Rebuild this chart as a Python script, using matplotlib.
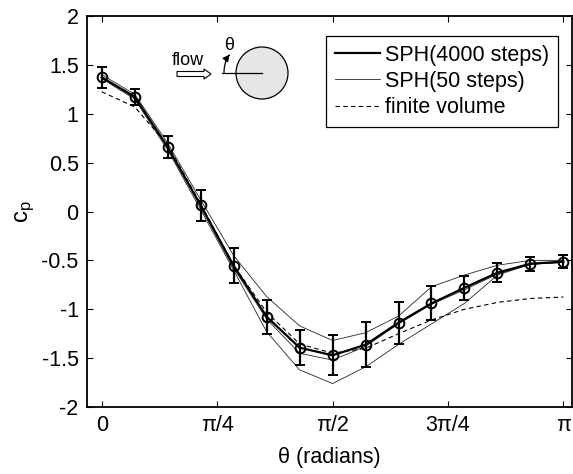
import numpy as np
import matplotlib
matplotlib.use("Agg")
import matplotlib.pyplot as plt
from matplotlib.patches import Circle, FancyArrow

plt.rcParams['font.family'] = ['Liberation Sans', 'DejaVu Sans']
plt.rcParams['mathtext.fontset'] = 'custom'
plt.rcParams['mathtext.rm'] = 'Liberation Sans'
plt.rcParams['mathtext.it'] = 'Liberation Sans'

# --- data ---
theta = np.arange(15) * np.pi / 14

sph4000 = [1.373, 1.174, 0.66, 0.063, -0.554, -1.076, -1.393, -1.471, -1.363,
           -1.137, -0.94, -0.78, -0.626, -0.534, -0.513]
sph4000_err = [0.105, 0.08, 0.11, 0.16, 0.18, 0.175, 0.18, 0.205, 0.23,
               0.215, 0.175, 0.125, 0.095, 0.07, 0.066]

sph50_upper = [1.40, 1.20, 0.70, 0.12, -0.45, -0.87, -1.17, -1.32, -1.24,
               -1.07, -0.77, -0.65, -0.55, -0.50, -0.50]
sph50_mid = [1.37, 1.16, 0.66, 0.05, -0.58, -1.10, -1.45, -1.52, -1.38,
             -1.15, -0.95, -0.80, -0.64, -0.54, -0.52]
sph50_lower = [1.36, 1.15, 0.63, 0.02, -0.60, -1.23, -1.62, -1.76, -1.59,
               -1.36, -1.15, -0.94, -0.65, -0.54, -0.52]

fv = [1.225, 1.07, 0.68, 0.08, -0.55, -1.03, -1.355, -1.45, -1.40,
      -1.25, -1.11, -1.00, -0.93, -0.89, -0.875]

xticks = [0, np.pi/4, np.pi/2, 3*np.pi/4, np.pi]
xticklabels = ['0', 'π/4', 'π/2', '3π/4', 'π']
yticks = np.arange(-2, 2.01, 0.5)
yticklabels = ['-2', '-1.5', '-1', '-0.5', '0', '0.5', '1', '1.5', '2']

FS = 15.5

fig = plt.figure(figsize=(5.73, 4.74), dpi=100)
ax = fig.add_axes([87/573, 67/474, 485/573, 391/474])

# thin SPH(50 steps) lines
ax.plot(theta, sph50_upper, color='0.15', lw=0.6, label='SPH(50 steps)')
ax.plot(theta, sph50_mid, color='0.15', lw=0.6)
ax.plot(theta, sph50_lower, color='0.15', lw=0.6)

# finite volume
ax.plot(theta, fv, color='k', lw=0.8, ls=(0, (4, 3)), label='finite volume')

# SPH(4000 steps) with error bars
ax.plot(theta, sph4000, color='k', lw=1.6, label='SPH(4000 steps)')
ax.errorbar(theta, sph4000, yerr=sph4000_err, fmt='o', color='k',
            mfc='none', mec='k', mew=1.4, ms=7, elinewidth=1.6,
            capsize=3.5, capthick=1.6)

ax.set_xlim(-0.1, 3.2)
ax.set_ylim(-2, 2)
ax.set_xticks(xticks)
ax.set_xticklabels(xticklabels)
ax.set_yticks(yticks)
ax.set_yticklabels(yticklabels)
ax.tick_params(direction='in', length=4, width=0.8, labelsize=FS,
               top=True, right=True, pad=6)
for s in ax.spines.values():
    s.set_linewidth(1.3)

ax.set_xlabel('θ (radians)', fontsize=FS, labelpad=8)
ax.set_ylabel(r'c$_\mathregular{p}$', fontsize=17, labelpad=3)

handles, labels = ax.get_legend_handles_labels()
order = [2, 0, 1]
leg = ax.legend([handles[i] for i in order], [labels[i] for i in order],
                loc='upper right', bbox_to_anchor=(0.971, 0.949),
                borderaxespad=0, fontsize=FS, handlelength=2.1,
                handletextpad=0.25, labelspacing=0.25, borderpad=0.4,
                fancybox=False, framealpha=1)
leg.get_frame().set_edgecolor('k')
leg.get_frame().set_linewidth(0.9)

# inset sketch of the cylinder, drawn in pixel units
ins = fig.add_axes([150/573, (474-112)/474, 150/573, 82/474])
ins.set_xlim(150, 300)
ins.set_ylim(112, 30)
ins.axis('off')
ins.add_patch(Circle((262, 73), 26, facecolor='#e6e6e6', edgecolor='k', lw=0.9))
ins.plot([222, 262], [73, 73], color='k', lw=0.9)
ins.add_patch(FancyArrow(177, 74, 34, 0, width=5, head_width=10, head_length=7,
                         length_includes_head=True, facecolor='white',
                         edgecolor='k', lw=0.8))
ins.text(188, 65, 'flow', fontsize=13, ha='center', va='baseline')
ins.text(229, 50, 'θ', fontsize=13, ha='center', va='baseline')
ang = np.radians(np.linspace(180, 155, 20))
ins.plot(262 + 38*np.cos(ang), 73 - 38*np.sin(ang), color='k', lw=0.9)
ins.annotate('', xy=(262 + 37*np.cos(np.radians(146)), 73 - 37*np.sin(np.radians(146))),
             xytext=(262 + 38*np.cos(np.radians(156)), 73 - 38*np.sin(np.radians(156))),
             arrowprops=dict(arrowstyle='-|>', color='k', lw=0.9, mutation_scale=10))

fig.savefig('out.png', dpi=100)
